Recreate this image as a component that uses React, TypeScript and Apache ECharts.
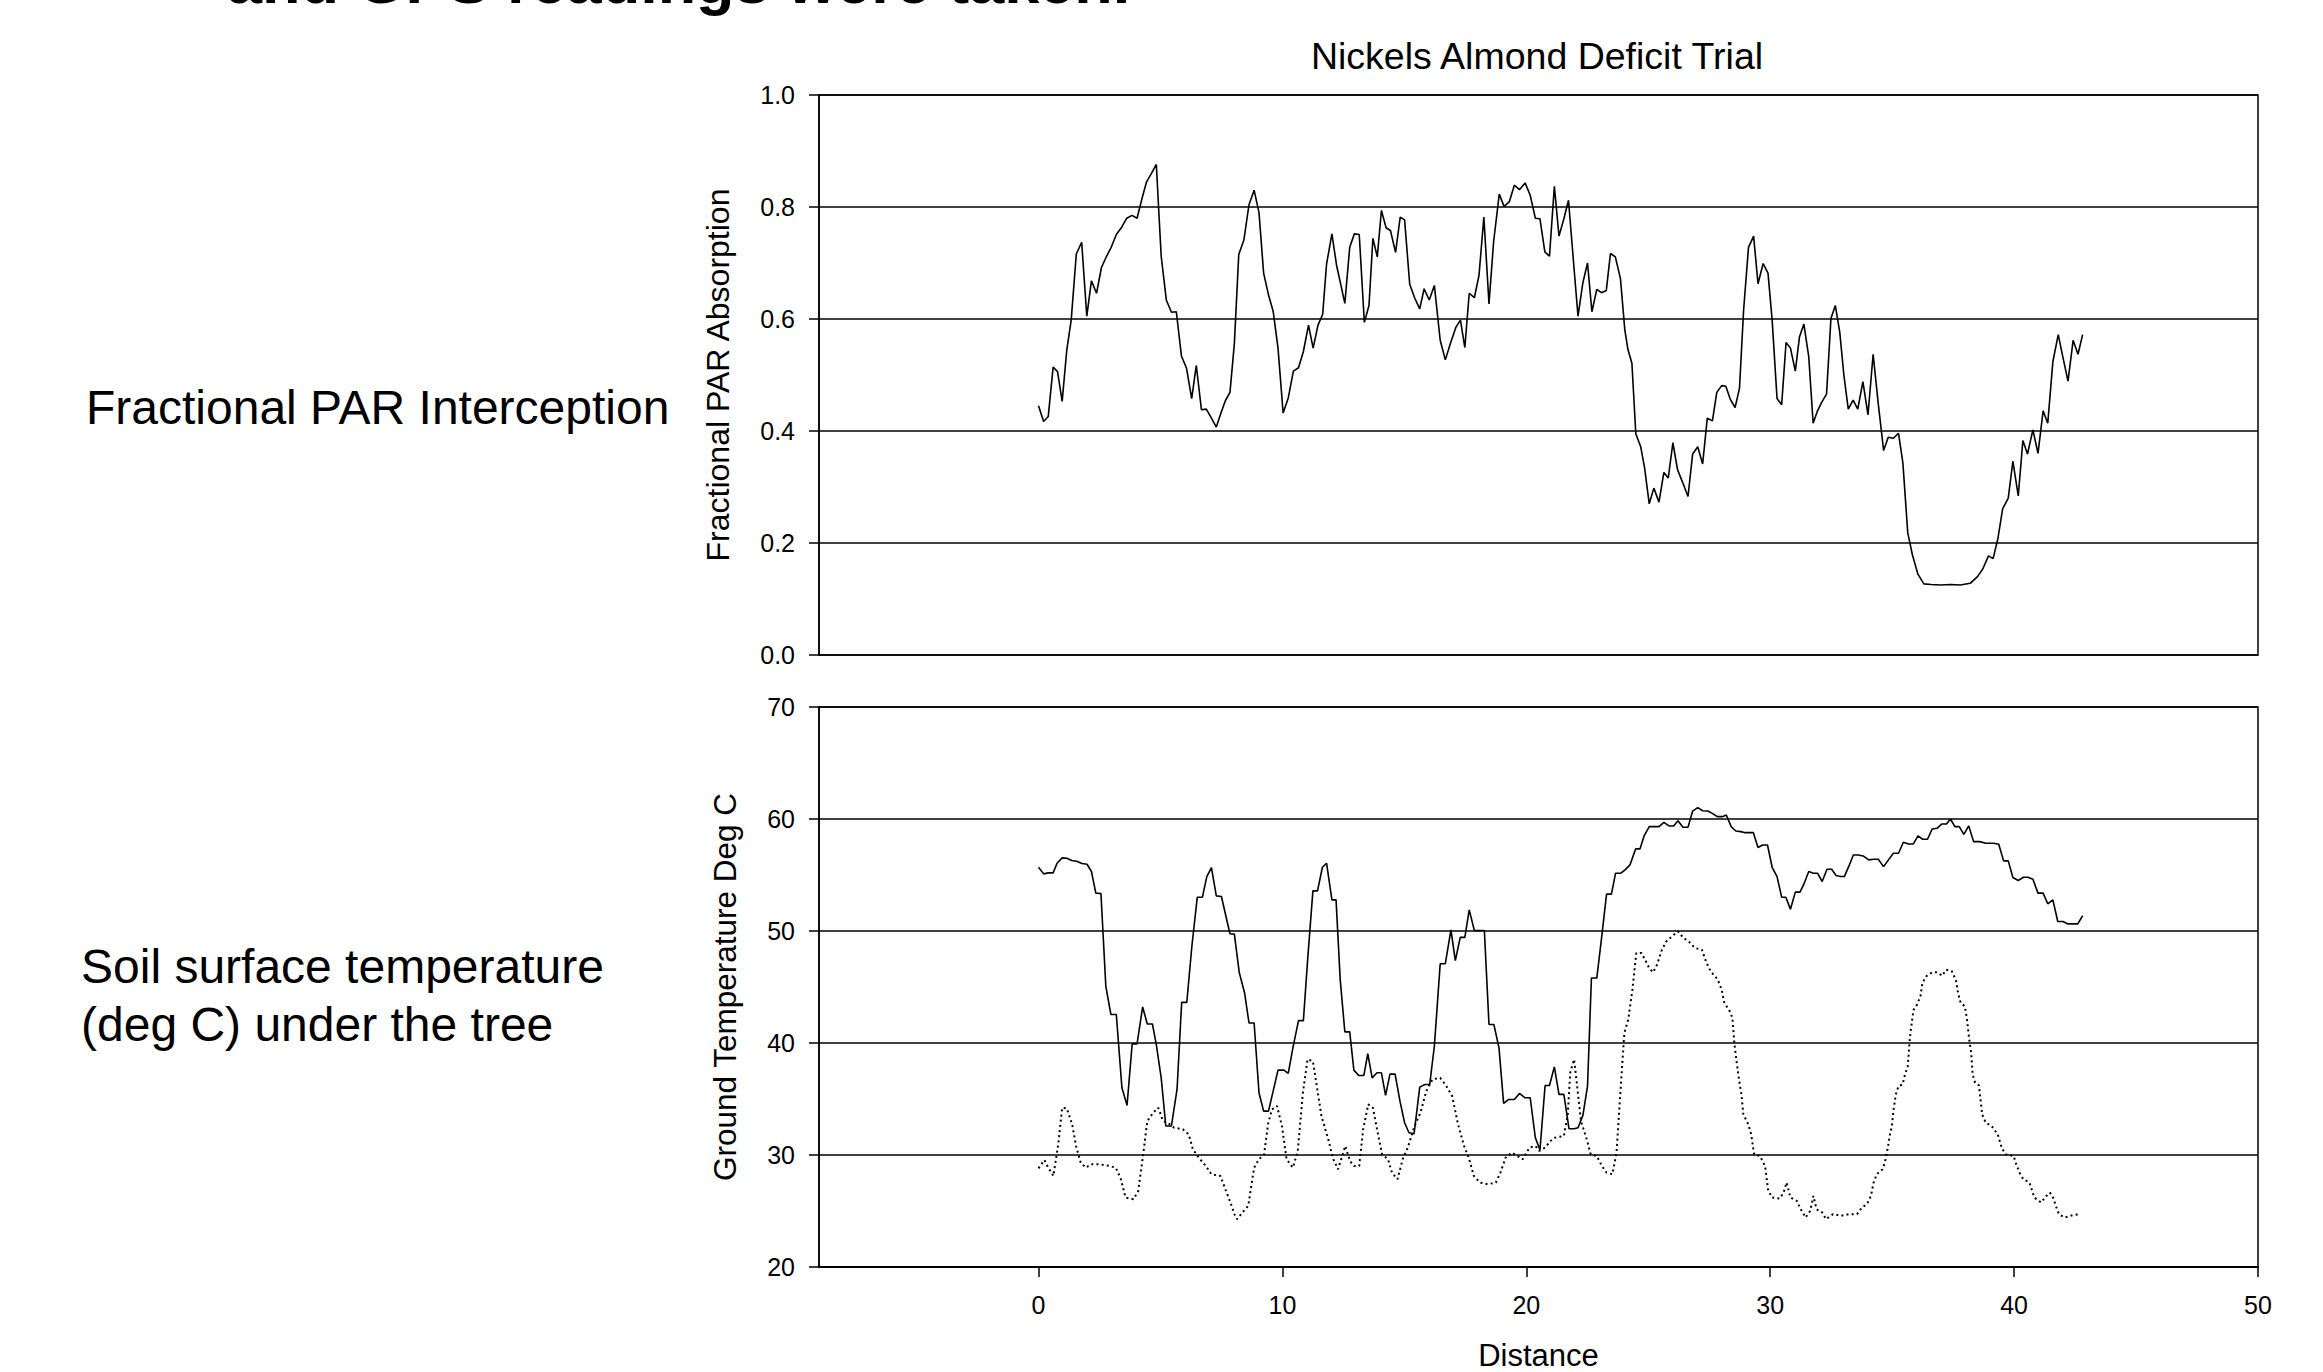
import React, { useEffect, useRef } from "react";
import * as echarts from "echarts";

// Fractional PAR absorption along the transect
const parX = [0.00,0.21,0.40,0.60,0.78,0.97,1.16,1.34,1.55,1.77,1.98,2.17,2.38,2.58,2.79,2.98,3.19,3.41,3.62,3.83,4.04,4.23,4.43,4.62,4.83,5.03,5.24,5.45,5.65,5.86,6.07,6.28,6.47,6.68,6.88,7.09,7.29,7.48,7.66,7.85,8.03,8.21,8.42,8.63,8.84,9.04,9.23,9.43,9.62,9.82,10.03,10.24,10.45,10.66,10.86,11.07,11.26,11.46,11.65,11.81,12.03,12.22,12.40,12.56,12.76,12.95,13.15,13.36,13.55,13.71,13.89,14.06,14.25,14.43,14.64,14.83,15.01,15.22,15.42,15.63,15.81,16.02,16.23,16.47,16.68,16.90,17.11,17.30,17.48,17.66,17.87,18.06,18.26,18.47,18.66,18.89,19.09,19.30,19.51,19.72,19.95,20.16,20.37,20.56,20.76,20.95,21.15,21.34,21.54,21.73,21.93,22.12,22.32,22.51,22.69,22.89,23.08,23.28,23.45,23.65,23.86,24.04,24.17,24.33,24.49,24.69,24.85,25.04,25.23,25.44,25.64,25.82,26.01,26.20,26.42,26.63,26.82,27.03,27.23,27.42,27.63,27.81,28.01,28.18,28.36,28.56,28.74,28.91,29.11,29.32,29.50,29.71,29.91,30.08,30.28,30.47,30.65,30.83,31.03,31.20,31.38,31.58,31.76,31.94,32.11,32.31,32.49,32.67,32.85,33.02,33.20,33.40,33.59,33.80,34.01,34.22,34.42,34.65,34.84,35.05,35.26,35.44,35.64,35.83,36.05,36.30,36.60,37.00,37.40,37.80,38.20,38.50,38.72,38.95,39.14,39.34,39.53,39.76,39.95,40.17,40.36,40.55,40.77,40.98,41.19,41.38,41.59,41.81,42.00,42.21,42.42,42.62,42.81];
const parY = [0.445,0.417,0.426,0.514,0.506,0.453,0.545,0.598,0.716,0.737,0.605,0.668,0.646,0.692,0.712,0.728,0.751,0.764,0.780,0.785,0.780,0.813,0.845,0.859,0.876,0.712,0.634,0.612,0.613,0.534,0.512,0.458,0.517,0.438,0.439,0.423,0.407,0.432,0.454,0.469,0.556,0.715,0.741,0.804,0.830,0.790,0.682,0.643,0.614,0.548,0.432,0.459,0.507,0.513,0.542,0.589,0.548,0.589,0.608,0.698,0.752,0.696,0.660,0.628,0.728,0.752,0.751,0.594,0.624,0.744,0.711,0.794,0.763,0.758,0.719,0.782,0.777,0.662,0.638,0.618,0.654,0.634,0.660,0.562,0.527,0.558,0.585,0.598,0.549,0.646,0.638,0.678,0.782,0.627,0.738,0.823,0.801,0.809,0.839,0.831,0.843,0.821,0.780,0.779,0.720,0.712,0.837,0.748,0.779,0.812,0.705,0.605,0.665,0.700,0.613,0.653,0.647,0.651,0.717,0.711,0.672,0.580,0.545,0.521,0.395,0.372,0.334,0.270,0.298,0.273,0.326,0.316,0.379,0.331,0.307,0.283,0.359,0.372,0.341,0.423,0.418,0.469,0.481,0.480,0.457,0.442,0.476,0.616,0.728,0.748,0.663,0.699,0.682,0.598,0.458,0.447,0.558,0.548,0.507,0.568,0.591,0.533,0.414,0.436,0.451,0.466,0.601,0.624,0.577,0.500,0.439,0.455,0.439,0.488,0.429,0.537,0.453,0.365,0.389,0.387,0.396,0.343,0.218,0.179,0.145,0.127,0.126,0.125,0.126,0.125,0.128,0.140,0.154,0.177,0.172,0.209,0.261,0.280,0.346,0.284,0.383,0.359,0.402,0.360,0.436,0.414,0.524,0.572,0.532,0.489,0.562,0.537,0.572];

// Ground temperature, open ground (solid line)
const openX = [0.00,0.21,0.40,0.60,0.76,0.97,1.16,1.36,1.57,1.78,1.99,2.17,2.35,2.56,2.76,2.97,3.19,3.42,3.63,3.84,4.04,4.27,4.46,4.67,4.83,5.03,5.22,5.45,5.68,5.87,6.08,6.29,6.51,6.72,6.90,7.09,7.29,7.50,7.67,7.85,8.03,8.23,8.45,8.63,8.84,9.04,9.23,9.43,9.62,9.82,10.06,10.24,10.43,10.66,10.86,11.03,11.25,11.44,11.64,11.81,12.03,12.20,12.37,12.56,12.76,12.93,13.13,13.34,13.50,13.68,13.88,14.06,14.23,14.41,14.62,14.82,15.01,15.19,15.40,15.63,15.84,16.04,16.23,16.47,16.68,16.91,17.09,17.29,17.48,17.66,17.87,18.28,18.47,18.67,18.88,19.07,19.28,19.51,19.72,19.95,20.16,20.37,20.56,20.77,20.95,21.15,21.34,21.54,21.75,21.96,22.12,22.32,22.51,22.67,22.89,23.08,23.29,23.49,23.66,23.88,24.05,24.25,24.48,24.66,24.83,25.04,25.23,25.44,25.64,25.85,26.04,26.22,26.42,26.63,26.82,27.03,27.23,27.44,27.63,27.83,28.04,28.20,28.40,28.59,28.79,28.98,29.31,29.50,29.69,29.89,30.08,30.28,30.47,30.64,30.83,31.03,31.22,31.38,31.58,31.77,31.94,32.13,32.33,32.52,32.70,32.88,33.04,33.23,33.41,33.61,33.81,34.04,34.24,34.43,34.65,34.85,35.05,35.26,35.46,35.67,35.87,36.06,36.25,36.45,36.64,36.84,37.03,37.23,37.39,37.57,37.75,37.94,38.14,38.34,38.59,38.84,39.16,39.37,39.57,39.76,39.95,40.17,40.38,40.57,40.77,40.98,41.19,41.38,41.59,41.79,42.00,42.19,42.61,42.81];
const openY = [55.69,55.10,55.19,55.19,56.05,56.53,56.50,56.29,56.23,56.02,55.96,55.31,53.38,53.35,45.06,42.54,42.54,36.00,34.43,39.92,39.92,43.22,41.70,41.70,39.86,36.89,32.59,32.59,35.85,43.63,43.63,48.68,53.02,53.02,54.86,55.66,53.14,53.08,51.45,49.75,49.72,46.31,44.47,41.79,41.79,35.56,33.92,33.92,35.70,37.58,37.58,37.28,39.57,42.00,42.00,47.29,53.58,53.58,55.69,56.05,52.78,52.78,45.66,40.99,40.99,37.58,37.10,37.10,39.06,36.89,37.34,37.34,35.32,37.22,37.22,34.81,32.88,31.99,31.90,36.06,36.30,36.30,39.71,47.08,47.08,50.11,47.35,49.43,49.43,51.89,50.05,50.05,41.65,41.65,39.57,34.61,34.96,34.96,35.50,35.11,35.11,31.55,30.45,36.21,36.21,37.87,35.41,35.41,32.35,32.35,32.44,33.54,36.15,45.80,45.80,49.28,53.29,53.29,55.16,55.16,55.46,55.90,57.33,57.33,58.49,59.32,59.32,59.32,59.70,59.38,59.38,59.85,59.26,59.26,60.71,61.01,60.74,60.71,60.50,60.21,60.21,60.36,59.32,58.93,58.87,58.78,58.78,57.45,57.68,57.68,55.69,54.86,53.02,53.02,51.95,53.47,53.47,54.18,55.31,55.16,55.16,54.42,55.51,55.51,54.95,54.86,54.86,55.81,56.79,56.79,56.70,56.35,56.41,56.41,55.75,56.35,56.94,56.94,57.92,57.77,57.77,58.49,58.19,58.19,59.11,59.17,59.55,59.55,60.00,59.32,59.32,58.63,59.38,57.98,57.98,57.83,57.83,57.74,56.26,56.26,54.77,54.51,54.80,54.80,54.62,53.38,53.38,52.43,52.78,50.85,50.85,50.64,50.64,51.36];

// Ground temperature under the tree (dotted line)
const shadeX = [0.00,0.24,0.40,0.61,0.81,0.97,1.16,1.38,1.54,1.73,1.94,2.16,2.51,2.92,3.16,3.36,3.57,3.89,4.09,4.30,4.46,4.70,4.91,5.11,5.30,5.56,5.92,6.16,6.33,6.57,6.86,7.09,7.46,7.66,7.87,8.03,8.14,8.36,8.60,8.84,9.04,9.25,9.41,9.57,9.78,9.98,10.17,10.43,10.63,10.84,11.03,11.25,11.41,11.60,11.90,12.06,12.28,12.58,12.77,12.93,13.15,13.31,13.52,13.71,13.88,14.09,14.33,14.49,14.72,14.93,15.14,15.42,15.66,15.90,16.15,16.47,16.72,16.96,17.20,17.45,17.64,17.85,18.10,18.42,18.75,18.94,19.15,19.40,19.64,19.85,20.13,20.37,20.53,20.77,20.99,21.18,21.54,21.70,21.80,21.96,22.07,22.24,22.48,22.64,22.89,23.10,23.29,23.53,23.70,23.86,24.02,24.18,24.35,24.51,24.72,24.87,25.04,25.20,25.36,25.56,25.74,25.97,26.22,26.45,26.66,26.91,27.20,27.39,27.56,27.85,28.01,28.12,28.33,28.45,28.53,28.61,28.72,28.82,28.90,29.10,29.22,29.34,29.58,29.79,29.91,30.07,30.39,30.55,30.67,30.83,31.09,31.25,31.45,31.64,31.77,31.90,32.13,32.29,32.58,32.91,33.23,33.56,33.76,33.97,34.13,34.24,34.37,34.61,34.70,34.81,34.91,34.99,35.05,35.15,35.26,35.43,35.51,35.64,35.70,35.75,35.83,35.88,35.99,36.16,36.24,36.40,36.64,36.84,37.05,37.21,37.45,37.62,37.70,37.81,37.98,38.07,38.16,38.24,38.30,38.40,38.56,38.63,38.69,38.84,39.08,39.33,39.49,39.65,39.98,40.09,40.22,40.38,40.63,40.83,41.11,41.32,41.47,41.60,41.71,41.84,42.08,42.41,42.72];
const shadeY = [28.81,29.55,28.87,28.13,30.95,34.22,34.16,32.74,30.80,29.32,28.87,29.17,29.17,29.02,28.87,27.98,26.20,26.05,26.79,30.21,33.03,33.77,34.22,33.03,32.88,32.44,32.29,31.84,30.51,29.76,29.02,28.28,28.13,26.94,25.76,24.72,24.27,24.87,25.46,28.87,29.62,30.06,32.74,34.07,34.37,32.59,29.62,28.87,30.36,35.56,38.53,38.38,36.15,33.48,31.25,29.76,28.73,30.80,29.47,29.02,29.02,32.29,34.52,34.22,32.29,30.06,29.62,28.43,27.84,29.62,30.66,32.59,33.77,35.70,36.75,36.89,36.15,35.26,32.74,30.80,29.76,28.13,27.54,27.39,27.54,28.43,29.76,30.21,29.91,29.62,30.66,30.80,30.36,30.66,31.25,31.55,31.70,33.63,37.34,38.53,36.45,33.03,31.40,30.06,29.91,29.02,28.43,28.28,30.21,35.70,40.90,42.09,44.76,48.03,48.03,47.44,46.69,46.31,46.99,48.33,49.07,49.52,49.96,49.37,49.07,48.48,48.33,47.14,46.40,45.66,44.76,43.58,42.89,42.24,40.01,38.53,36.75,35.41,33.63,32.74,31.84,30.06,29.91,29.02,26.94,26.20,26.11,26.64,27.54,26.20,25.91,25.16,24.42,25.01,26.35,25.16,24.87,24.27,24.72,24.57,24.72,24.72,25.31,25.61,26.35,27.54,28.28,28.73,29.32,30.51,31.84,32.59,33.92,35.41,36.15,36.30,37.04,37.93,39.71,40.90,42.24,42.98,43.28,44.17,45.36,45.96,46.31,46.31,46.01,46.55,46.40,45.57,44.47,43.58,43.28,42.09,40.31,39.12,37.19,36.45,36.21,34.81,33.63,32.88,32.59,31.84,30.66,30.06,29.91,29.17,28.43,27.84,27.54,26.20,25.76,26.35,26.64,26.20,25.46,24.72,24.42,24.63,24.72];

const distanceTicks = [0, 10, 20, 30, 40, 50];

const FONT = "'Liberation Sans', Arial, Helvetica, sans-serif";
const BLACK = "#000";

function zip(xs: number[], ys: number[]) {
  return xs.map((x, i) => [x, ys[i]]);
}

export default function App() {
  const ref = useRef<HTMLDivElement>(null);

  useEffect(() => {
    if (!ref.current) return;
    const chart = echarts.init(ref.current, null, { renderer: "svg" });
    const lineStyle = { color: BLACK, width: 1.5 };
    const labelStyle = { color: BLACK, fontFamily: FONT, fontSize: 25 };
    const nameStyle = { color: BLACK, fontFamily: FONT, fontSize: 31.5, verticalAlign: "middle" as const };
    const gridBase = {
      left: 819,
      width: 1439,
      height: 560,
      show: true,
      borderColor: BLACK,
      borderWidth: 1.5,
      backgroundColor: "transparent",
      containLabel: false,
      outerBoundsMode: "none",
    };

    chart.setOption({
      animation: false,
      backgroundColor: "#ffffff",
      grid: [
        { ...gridBase, top: 95 },
        { ...gridBase, top: 707 },
      ],
      xAxis: [
        { gridIndex: 0, type: "value", min: -9, max: 50, show: false },
        {
          gridIndex: 1,
          type: "value",
          min: -9,
          max: 50,
          axisLine: { show: true, onZero: false, lineStyle },
          axisTick: { show: true, customValues: distanceTicks, length: 10, inside: false, lineStyle },
          axisLabel: { show: true, customValues: distanceTicks, margin: 25, ...labelStyle },
          splitLine: { show: false },
          name: "Distance",
          nameLocation: "middle",
          nameGap: 88,
          nameTextStyle: { ...nameStyle, fontSize: 31, lineHeight: 24 },
        },
      ],
      yAxis: [
        {
          gridIndex: 0,
          type: "value",
          min: 0,
          max: 1,
          interval: 0.2,
          axisLine: { show: true, onZero: false, lineStyle },
          axisTick: { show: true, length: 10, lineStyle },
          axisLabel: { margin: 24, formatter: (v: number) => v.toFixed(1), ...labelStyle },
          splitLine: { show: true, lineStyle: { color: BLACK, width: 1.5 } },
          name: "Fractional PAR Absorption",
          nameLocation: "middle",
          nameRotate: 90,
          nameGap: 101,
          nameTextStyle: { ...nameStyle, fontSize: 32 },
        },
        {
          gridIndex: 1,
          type: "value",
          min: 20,
          max: 70,
          interval: 10,
          axisLine: { show: true, onZero: false, lineStyle },
          axisTick: { show: true, length: 10, lineStyle },
          axisLabel: { margin: 24, ...labelStyle },
          splitLine: { show: true, lineStyle: { color: BLACK, width: 1.5 } },
          name: "Ground Temperature Deg C",
          nameLocation: "middle",
          nameRotate: 90,
          nameGap: 94,
          nameTextStyle: nameStyle,
        },
      ],
      series: [
        {
          name: "Fractional PAR Absorption",
          type: "line",
          xAxisIndex: 0,
          yAxisIndex: 0,
          data: zip(parX, parY),
          showSymbol: false,
          lineStyle: { color: BLACK, width: 1.6 },
          z: 5,
        },
        {
          name: "Open ground",
          type: "line",
          xAxisIndex: 1,
          yAxisIndex: 1,
          data: zip(openX, openY),
          showSymbol: false,
          lineStyle: { color: BLACK, width: 1.6 },
          z: 5,
        },
        {
          name: "Under the tree",
          type: "line",
          xAxisIndex: 1,
          yAxisIndex: 1,
          data: zip(shadeX, shadeY),
          showSymbol: false,
          lineStyle: { color: BLACK, width: 2, type: [2, 3.2], cap: "butt" },
          z: 5,
        },
      ],
      graphic: [
        {
          type: "text",
          x: 227,
          y: -19,
          style: { text: "and GPS readings were taken.", fill: BLACK, font: `bold 63px ${FONT}`, verticalAlign: "middle", align: "left" },
        },
        {
          type: "text",
          x: 1537,
          y: 56,
          style: { text: "Nickels Almond Deficit Trial", fill: BLACK, font: `37.5px ${FONT}`, verticalAlign: "middle", align: "center" },
        },
        {
          type: "text",
          x: 86,
          y: 407,
          style: { text: "Fractional PAR Interception", fill: BLACK, font: `48px ${FONT}`, verticalAlign: "middle", align: "left" },
        },
        {
          type: "text",
          x: 81,
          y: 966,
          style: { text: "Soil surface temperature", fill: BLACK, font: `48px ${FONT}`, verticalAlign: "middle", align: "left" },
        },
        {
          type: "text",
          x: 81,
          y: 1024,
          style: { text: "(deg C) under the tree", fill: BLACK, font: `48px ${FONT}`, verticalAlign: "middle", align: "left" },
        },
      ],
    });

    return () => {
      chart.dispose();
    };
  }, []);

  return (
    <div
      ref={ref}
      style={{ position: "fixed", left: 0, top: 0, width: 2323, height: 1372, background: "#fff" }}
    />
  );
}
